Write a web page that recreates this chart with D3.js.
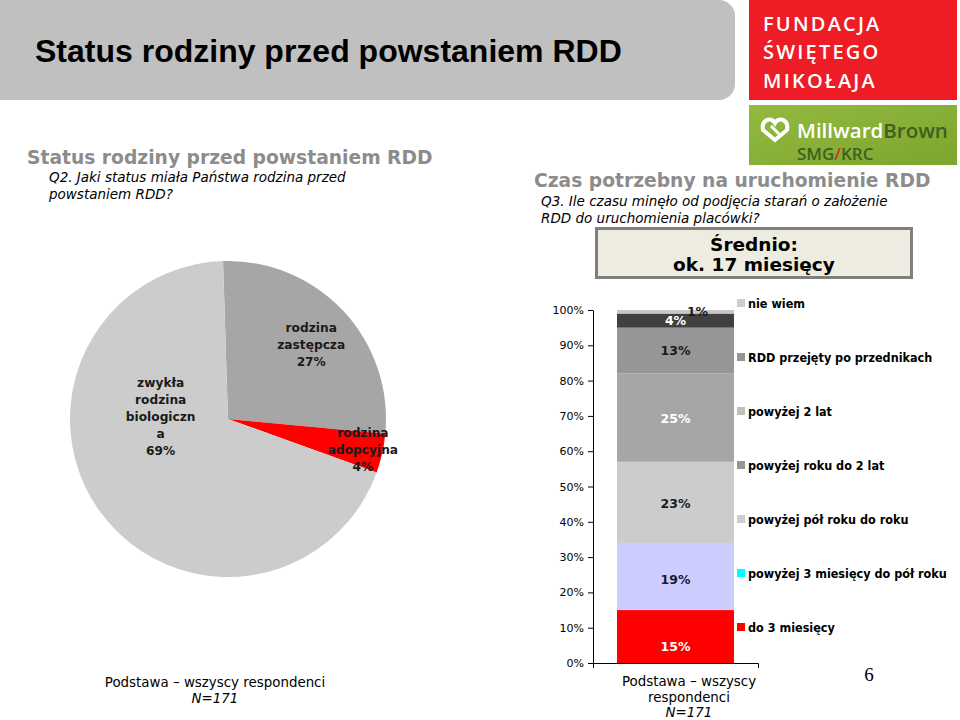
<!DOCTYPE html>
<html><head><meta charset="utf-8">
<script src="https://cdn.jsdelivr.net/npm/d3@7/dist/d3.min.js"></script>
<style>body{margin:0;background:#fff}svg{display:block}</style>
</head><body>
<svg id="c" width="960" height="720"></svg>
<script>
// ---- Data ----
const pieCategories = ["rodzina zastępcza", "rodzina adopcyjna", "zwykła rodzina biologiczna"];
const pieValues = [27, 4, 69];
const pieLabelLines = [["rodzina", "zastępcza", "27%"], ["rodzina", "adopcyjna", "4%"], ["zwykła", "rodzina", "biologiczn", "a", "69%"]];
const pieColors = ["#A6A6A6", "#FF0000", "#CCCCCC"];

// stacked bar, bottom to top
const barCategories = ["do 3 miesięcy", "powyżej 3 miesięcy do pół roku", "powyżej pół roku do roku",
  "powyżej roku do 2 lat", "powyżej 2 lat", "RDD przejęty po przednikach", "nie wiem"];
const barValues = [15, 19, 23, 25, 13, 4, 1];
const barColors = ["#FF0000", "#CCCCFF", "#CCCCCC", "#A6A6A6", "#969696", "#404040", "#C8C8C8"];
const barLabelColors = ["#fff", "#1a1a2e", "#1a1a1a", "#fff", "#1a1a1a", "#fff", "#1a1a1a"];
const legendColors = ["#FF0000", "#00FFFF", "#CCCCCC", "#969696", "#C0C0C0", "#969696", "#CCCCCC"];
const yTicks = [0, 10, 20, 30, 40, 50, 60, 70, 80, 90, 100];

const svg = d3.select("#c");
const V = "'DejaVu Sans', Verdana, sans-serif";

// ---- Header ----
svg.append("rect").attr("x", -20).attr("y", 0).attr("width", 755).attr("height", 100).attr("rx", 16).attr("fill", "#C0C0C0");
svg.append("text").attr("x", 35).attr("y", 62).attr("font-family", "'Liberation Sans', Arial, sans-serif")
  .attr("font-weight", "bold").attr("font-size", 32).attr("fill", "#000").text("Status rodziny przed powstaniem RDD");

// red logo
svg.append("rect").attr("x", 749).attr("y", 0).attr("width", 208).attr("height", 100).attr("fill", "#EE1C25");
["FUNDACJA", "ŚWIĘTEGO", "MIKOŁAJA"].forEach((t, i) => {
  svg.append("text").attr("x", 763).attr("y", 30.5 + i * 28.5).attr("font-family", "'Open Sans', sans-serif")
    .attr("font-weight", 600).attr("font-size", 20).attr("letter-spacing", 2.2).attr("fill", "#fff").text(t);
});
// green logo
const gg = svg.append("defs").append("linearGradient").attr("id", "gg").attr("x1", 0).attr("x2", 1).attr("y1", 0).attr("y2", 1);
gg.append("stop").attr("offset", 0).attr("stop-color", "#93B93F");
gg.append("stop").attr("offset", 1).attr("stop-color", "#7DA52F");
svg.append("rect").attr("x", 749).attr("y", 105).attr("width", 208).attr("height", 60).attr("fill", "url(#gg)");
const lg = svg.append("g").attr("transform", "translate(775,128)");
lg.append("path").attr("d", "M-12,2 C-14,-8 -4,-12 0,-5 C4,-12 14,-8 12,2 L0,12 Z").attr("fill", "none").attr("stroke", "#fff").attr("stroke-width", 4);
lg.append("path").attr("d", "M-4,-2 L4,6").attr("stroke", "#fff").attr("stroke-width", 3);
const mb = svg.append("text").attr("x", 797).attr("y", 138).attr("font-family", "'Open Sans', sans-serif").attr("font-weight", 600).attr("font-size", 20.5);
mb.append("tspan").attr("fill", "#fff").text("Millward");
mb.append("tspan").attr("fill", "#3F5F1C").text("Brown");
const sk = svg.append("text").attr("x", 797).attr("y", 160).attr("font-family", "'Open Sans', sans-serif").attr("font-weight", 600).attr("font-size", 17).attr("fill", "#3F5F1C");
sk.append("tspan").text("SMG");
sk.append("tspan").attr("fill", "#C0392B").text("/");
sk.append("tspan").text("KRC");

// ---- Section titles ----
function title(x, y, t) {
  svg.append("text").attr("x", x).attr("y", y).attr("font-family", V).attr("font-weight", "bold")
    .attr("font-size", 18.7).attr("fill", "#8C8C8C").text(t);
}
function sub(x, y, lines) {
  lines.forEach((t, i) => svg.append("text").attr("x", x).attr("y", y + i * 16.5).attr("font-family", V)
    .attr("font-style", "italic").attr("font-size", 13.5).attr("fill", "#000").text(t));
}
title(27, 164, "Status rodziny przed powstaniem RDD");
sub(49, 182, ["Q2. Jaki status miała Państwa rodzina przed", "powstaniem RDD?"]);
title(534, 187, "Czas potrzebny na uruchomienie RDD");
sub(541, 206, ["Q3. Ile czasu minęło od podjęcia starań o założenie", "RDD do uruchomienia placówki?"]);

// Średnio box
svg.append("rect").attr("x", 596.5).attr("y", 228.5).attr("width", 315).attr("height", 49).attr("fill", "#EEECE1").attr("stroke", "#7F7F7F").attr("stroke-width", 3);
["Średnio:", "ok. 17 miesięcy"].forEach((t, i) => svg.append("text").attr("x", 754).attr("y", 251 + i * 20)
  .attr("text-anchor", "middle").attr("font-family", V).attr("font-weight", "bold").attr("font-size", 18.5).attr("fill", "#000").text(t));

// ---- Pie ----
const cx = 228, cy = 419, R = 158;
const start = -1.8 * Math.PI / 180;
const pie = d3.pie().sort(null).value(d => d).startAngle(start).endAngle(start + 2 * Math.PI);
const arcs = pie(pieValues);
const arc = d3.arc().innerRadius(0).outerRadius(R);
const pg = svg.append("g").attr("transform", `translate(${cx},${cy})`);
pg.selectAll("path").data(arcs).join("path").attr("d", arc).attr("fill", (d, i) => pieColors[i]);
const labelArc = d3.arc().innerRadius(0).outerRadius(R * 1.15);
const labelShift = [[17, -13], [0, 0], [-13, -42]];
const labelArcs = [labelArc, d3.arc().innerRadius(0).outerRadius(R * 1.75), d3.arc().innerRadius(0).outerRadius(R * 0.85)];
arcs.forEach((a, i) => {
  const [lx0, ly0] = labelArcs[i].centroid(a);
  const lx = lx0 + labelShift[i][0], ly = ly0 + labelShift[i][1];
  const lines = pieLabelLines[i];
  const t = pg.append("text").attr("text-anchor", "middle").attr("font-family", V).attr("font-weight", "bold")
    .attr("font-size", 12.2).attr("fill", "#1a1a1a");
  lines.forEach((s, j) => t.append("tspan").attr("x", lx).attr("y", ly + (j - (lines.length - 1) / 2) * 17 + 5).text(s));
});

// ---- Stacked bar ----
const y = d3.scaleLinear().domain([0, 100]).range([663, 310]);
const x = d3.scaleBand().domain(["Podstawa"]).range([593, 758]).paddingInner(0).paddingOuter(0.205);
let acc = 0;
const stack = barValues.map((v, i) => { const s = { v, i, y0: acc, y1: acc + v }; acc += v; return s; });
const bg = svg.append("g");
bg.selectAll("rect").data(stack).join("rect")
  .attr("x", x("Podstawa")).attr("width", x.bandwidth())
  .attr("y", d => y(d.y1)).attr("height", d => y(d.y0) - y(d.y1)).attr("fill", d => barColors[d.i]);
const labelDx = [0, 0, 0, 0, 0, 0, 22];
const labelDy = [9, 2, 1, 0, -1, -1, -1];
bg.selectAll("text").data(stack).join("text")
  .attr("x", d => x("Podstawa") + x.bandwidth() / 2 + labelDx[d.i])
  .attr("y", d => y((d.y0 + d.y1) / 2) + labelDy[d.i] + 5)
  .attr("text-anchor", "middle").attr("font-family", V).attr("font-weight", "bold").attr("font-size", 12.5)
  .attr("fill", d => barLabelColors[d.i]).text(d => d.v + "%");

const ya = svg.append("g").attr("transform", "translate(593,0)")
  .call(d3.axisLeft(y).tickValues(yTicks).tickFormat(d => d + "%").tickSize(5).tickSizeOuter(0).tickPadding(4));
ya.select(".domain").attr("stroke", "#000");
ya.selectAll("text").attr("font-family", V).attr("font-size", 11).attr("fill", "#000");
const xa = svg.append("g").attr("transform", "translate(0,663)")
  .call(d3.axisBottom(x).tickValues([]).tickSizeOuter(5));
xa.select(".domain").attr("stroke", "#000");

// legend
const legItems = barCategories.map((c, i) => ({ c, i })).reverse();
const lgd = svg.append("g");
legItems.forEach((d, k) => {
  const yy = 303 + k * 54;
  lgd.append("rect").attr("x", 737).attr("y", yy - 4).attr("width", 8).attr("height", 8).attr("fill", legendColors[d.i]);
  lgd.append("text").attr("x", 748).attr("y", yy + 4.5).attr("font-family", "'DejaVu Sans Condensed', 'DejaVu Sans', sans-serif")
    .attr("font-weight", "bold").attr("font-size", 12.5).attr("fill", "#000").text(d.c);
});

// ---- Footers ----
function foot(xc, y0, lines) {
  lines.forEach((t, i) => svg.append("text").attr("x", xc).attr("y", y0 + i * 15.5).attr("text-anchor", "middle")
    .attr("font-family", V).attr("font-size", 13.4).attr("font-style", t.startsWith("N=") ? "italic" : "normal")
    .attr("fill", "#000").text(t));
}
foot(215, 687, ["Podstawa – wszyscy respondenci", "N=171"]);
foot(689, 686, ["Podstawa – wszyscy", "respondenci", "N=171"]);
svg.append("text").attr("x", 869).attr("y", 681).attr("text-anchor", "middle").attr("font-family", "'Liberation Serif', serif")
  .attr("font-size", 19).text("6");
</script>
</body></html>
